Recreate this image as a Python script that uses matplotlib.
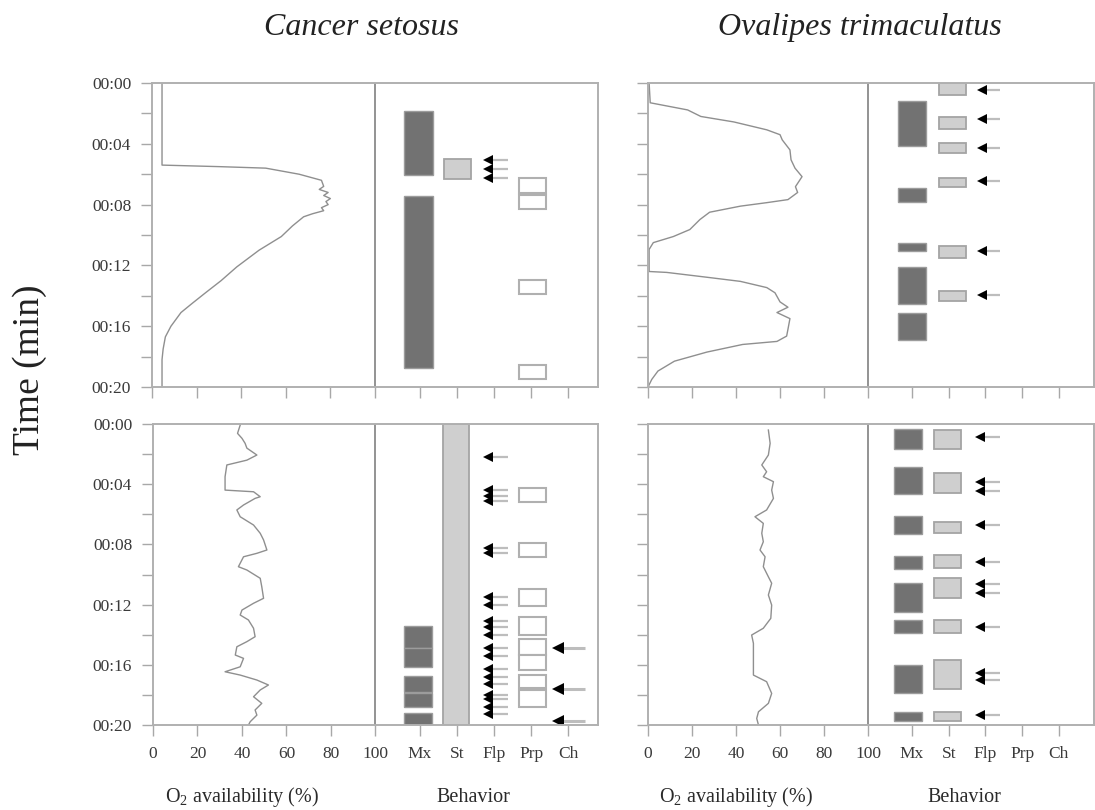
import matplotlib
matplotlib.use('Agg')
import matplotlib.pyplot as plt

plt.rcParams['font.family'] = ['Liberation Serif', 'DejaVu Serif']
plt.rcParams['mathtext.fontset'] = 'custom'
plt.rcParams['mathtext.rm'] = 'Liberation Serif'
plt.rcParams['mathtext.it'] = 'Liberation Serif:italic'

species = ['Cancer setosus', 'Ovalipes trimaculatus']
x_ticks = [0, 20, 40, 60, 80, 100, 120, 136.7, 153.3, 170, 186.7]
x_ticklabels = ['0', '20', '40', '60', '80', '100', 'Mx', 'St', 'Flp', 'Prp', 'Ch']
y_ticks = [0, 4, 8, 12, 16, 20]
y_minor = [2, 6, 10, 14, 18]
y_ticklabels = ['00:00', '00:04', '00:08', '00:12', '00:16', '00:20']

# O2 traces: time (min) and O2 availability (%)
cs_top_t = [0, 5.4, 5.5, 5.6, 6.0, 6.4, 6.8, 7.0, 7.2, 7.4, 7.6, 7.8, 8.0, 8.2, 8.4, 8.6, 8.8,
            9.4, 10.1, 11.0, 12.1, 13.0, 13.8, 14.5, 15.1, 16.0, 16.7, 17.5, 18.2, 20]
cs_top_o2 = [4.5, 4.5, 30, 51, 66, 76, 77, 75, 79, 77, 80, 78, 79, 76, 77, 72, 68,
             63, 58, 48, 38, 31, 24, 18, 13, 8.5, 6, 5, 4.5, 4.5]

cs_bot_t = [0.07, 0.62, 0.95, 1.28, 1.6, 2.06, 2.4, 2.72, 3.5, 4.39, 4.5, 4.83, 4.94, 5.38,
            5.71, 6.16, 6.71, 7.26, 7.7, 8.37, 8.59, 8.82, 9.48, 9.7, 10.25, 10.81, 11.58,
            11.91, 12.36, 12.69, 13.02, 13.57, 14.13, 14.46, 14.8, 15.35, 15.57, 16.13,
            16.46, 16.68, 17.01, 17.34, 17.67, 18.12, 18.56, 19.0, 19.34, 19.78, 20.0]
cs_bot_o2 = [39.2, 38, 40, 41.4, 42.2, 46.7, 42.2, 33.2, 32.4, 32.4, 45.2, 48.2, 45.9, 40.7,
             37.7, 39.2, 45.2, 48.2, 49.7, 51.2, 46.7, 40.7, 38.4, 42.2, 48.2, 48.9, 49.7,
             45.2, 40, 39.2, 42.9, 45.2, 45.9, 42.2, 37.7, 37, 40.7, 39.2,
             32.4, 39.2, 46.7, 51.9, 48.2, 45.2, 48.9, 45.9, 46.7, 43.7, 42.9]

ot_top_t = [0, 1.3, 1.77, 2.2, 2.56, 3.08, 3.4, 3.74, 4.4, 5.05, 5.6, 6.16, 6.82, 7.2, 7.67,
            7.87, 8.1, 8.5, 8.98, 9.64, 10.1, 10.5, 10.95, 12.4, 12.46, 12.8, 13.05, 13.46,
            13.8, 14.4, 14.75, 15.1, 15.5, 16.2, 16.65, 17.0, 17.2, 17.7, 18.3, 18.95, 19.5, 20]
ot_top_o2 = [0.5, 1, 18, 24, 39, 54, 60, 61, 64.5, 65, 66.8, 70, 67, 68, 63.6,
             54, 42, 28, 23.6, 19, 11.5, 2.4, 0.5, 0.5, 8.5, 28, 42, 54,
             57.7, 60, 63.6, 58.6, 64.5, 63.6, 63, 58.6, 43, 26.8, 12, 4.5, 1.7, 0]

ot_bot_t = [0.4, 1.28, 2.06, 2.72, 3.17, 3.5, 3.83, 4.39, 4.94, 5.71, 6.16, 6.6, 7.26, 7.82,
            8.37, 8.82, 9.48, 10.15, 10.58, 11.36, 12.03, 12.91, 13.57, 14.02, 14.57, 15.46,
            16.68, 17.12, 17.9, 18.56, 19.12, 19.56, 20.0]
ot_bot_o2 = [54.7, 55.5, 54.7, 51.7, 53.9, 52.4, 57, 56.2, 57, 53.9, 48.6, 52.4, 51.7, 52.4,
             50.9, 53.2, 52.4, 54.7, 56.2, 54.7, 56.2, 55.8, 52.4, 47.1, 47.9, 47.9,
             47.9, 53.9, 56.2, 54.7, 50.2, 49.4, 50.2]

# behaviour bouts (start, end in min) and single events (min)
cs_top_mx = [(1.84, 6.05), (7.43, 18.75)]
cs_top_st = [(5.0, 6.3)]
cs_top_flp = [5.07, 5.66, 6.25]
cs_top_prp = [(6.25, 7.24), (7.37, 8.29), (12.96, 13.88), (18.55, 19.47)]
cs_top_ch = []

cs_bot_mx = [(13.42, 14.88), (14.88, 16.15), (16.74, 17.8), (17.9, 18.8), (19.2, 20.0)]
cs_bot_st = [(0, 20)]
cs_bot_flp = [2.18, 4.4, 4.75, 5.1, 8.25, 8.6, 11.5, 12.0, 13.1, 13.5, 14.0, 14.9, 15.4,
              16.3, 16.8, 17.3, 18.0, 18.3, 18.8, 19.3]
cs_bot_prp = [(4.25, 5.18), (7.9, 8.84), (10.96, 12.1), (12.8, 14.0), (14.3, 15.35),
              (15.35, 16.35), (16.7, 17.54), (17.67, 18.8)]
cs_bot_ch = [14.9, 17.6, 19.7]

ot_top_mx = [(1.18, 4.13), (6.89, 7.8), (10.5, 11.08), (12.13, 14.56), (15.15, 16.92)]
ot_top_st = [(0, 0.79), (2.23, 3.02), (3.93, 4.59), (6.23, 6.82), (10.75, 11.54), (13.7, 14.36)]
ot_top_flp = [0.46, 2.36, 4.26, 6.43, 11.02, 13.97]
ot_top_prp = []
ot_top_ch = []

ot_bot_mx = [(0.33, 1.66), (2.86, 4.65), (6.11, 7.31), (8.77, 9.63), (10.56, 12.49),
             (13.02, 13.89), (16.01, 17.87), (19.14, 19.73)]
ot_bot_st = [(0.4, 1.66), (3.26, 4.58), (6.51, 7.24), (8.7, 9.57), (10.23, 11.56),
             (13.02, 13.89), (15.68, 17.6), (19.14, 19.73)]
ot_bot_flp = [0.86, 3.85, 4.45, 6.71, 9.17, 10.63, 11.23, 13.49, 16.54, 17.0, 19.34]
ot_bot_prp = []
ot_bot_ch = []

panels = [
    dict(t=cs_top_t, o2=cs_top_o2, mx=cs_top_mx, st=cs_top_st, flp=cs_top_flp, prp=cs_top_prp,
         ch=cs_top_ch, rect=[0.1388, 0.5222, 0.4073, 0.3753], xmax=200, mxx=119.5, stx=137,
         stw=12.5, flpx=(149.5, 159.5), bottom=False, left=True),
    dict(t=cs_bot_t, o2=cs_bot_o2, mx=cs_bot_mx, st=cs_bot_st, flp=cs_bot_flp, prp=cs_bot_prp,
         ch=cs_bot_ch, rect=[0.1397, 0.1049, 0.4064, 0.3716], xmax=200, mxx=119, stx=136.2,
         stw=11.3, flpx=(149.5, 159.5), bottom=True, left=True),
    dict(t=ot_top_t, o2=ot_top_o2, mx=ot_top_mx, st=ot_top_st, flp=ot_top_flp, prp=ot_top_prp,
         ch=ot_top_ch, rect=[0.5918, 0.5222, 0.4073, 0.3753], xmax=202.7, mxx=120, stx=138.5,
         stw=12.4, flpx=(151, 160), bottom=False, left=False),
    dict(t=ot_bot_t, o2=ot_bot_o2, mx=ot_bot_mx, st=ot_bot_st, flp=ot_bot_flp, prp=ot_bot_prp,
         ch=ot_bot_ch, rect=[0.5918, 0.1049, 0.4073, 0.3716], xmax=202.7, mxx=118, stx=136,
         stw=12.4, flpx=(150, 160), bottom=True, left=False),
]

fig = plt.figure(figsize=(10.95, 8.1), dpi=100)

for p in panels:
    ax = fig.add_axes(p['rect'])
    ax.plot(p['o2'], p['t'], color='#8f8f8f', lw=1.0)
    ax.axvline(100, color='#8a8a8a', lw=1.3)

    for a, b in p['mx']:
        ax.bar(p['mxx'], b - a, bottom=a, width=12.6, color='#727272',
               edgecolor='#9c9c9c', lw=1.0)
    for a, b in p['st']:
        ax.bar(p['stx'], b - a, bottom=a, width=p['stw'], color='#cfcfcf',
               edgecolor='#a4a4a4', lw=1.3)
    for a, b in p['prp']:
        ax.bar(170.5, b - a, bottom=a, width=12, color='white',
               edgecolor='#b0b0b0', lw=1.5)
    h, tl = p['flpx']
    for t in p['flp']:
        ax.plot([h, tl], [t, t], color='#bdbdbd', lw=1.6, solid_capstyle='butt')
        ax.plot(h + 1, t, marker='<', color='black', ms=7, mew=0)
    for t in p['ch']:
        ax.plot([181, 194], [t, t], color='#bdbdbd', lw=2.2, solid_capstyle='butt')
        ax.plot(182, t, marker='<', color='black', ms=8, mew=0)

    ax.set_xlim(0, p['xmax'])
    ax.set_ylim(20, 0)
    ax.set_xticks(x_ticks)
    ax.set_yticks(y_ticks)
    ax.set_yticks(y_minor, minor=True)
    if p['bottom']:
        ax.set_xticklabels(x_ticklabels)
    else:
        ax.set_xticklabels([])
    if p['left']:
        ax.set_yticklabels(y_ticklabels)
    else:
        ax.set_yticklabels([])
    ax.tick_params(axis='both', which='both', direction='out', length=8, width=1,
                   color='#a8a8a8', labelsize=12.5, pad=7, labelcolor='#3a3a3a')
    for s in ax.spines.values():
        s.set_color('#b0b0b0')
        s.set_linewidth(1.4)

    if p['bottom']:
        ax.text(40, -0.24, r'O$_2$ availability (%)', transform=ax.get_xaxis_transform(),
                ha='center', va='center', fontsize=14.5, color='#2a2a2a')
        ax.text(144, -0.24, 'Behavior', transform=ax.get_xaxis_transform(),
                ha='center', va='center', fontsize=14.5, color='#2a2a2a')

fig.text(0.33, 0.966, species[0], style='italic', fontsize=23, ha='center', va='center',
         color='#222222')
fig.text(0.785, 0.966, species[1], style='italic', fontsize=23, ha='center', va='center',
         color='#222222')
fig.text(0.027, 0.543, 'Time (min)', rotation=90, fontsize=27, ha='center', va='center',
         color='#222222')

fig.savefig('out.png', dpi=100)
